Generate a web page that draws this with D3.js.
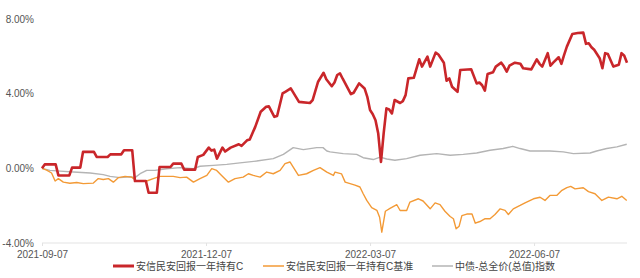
<!DOCTYPE html>
<html>
<head>
<meta charset="utf-8">
<script src="https://cdn.jsdelivr.net/npm/d3@7"></script>
<style>
  body { margin: 0; background: #fff; }
  text { font-family: "Liberation Sans", Arial, "Noto Sans CJK SC", sans-serif; }
</style>
</head>
<body>
<div id="chart"></div>
<script>
// Trading-day index (0 = 2021-09-07) and return in %
const fundPts = [[0,0],[1,0.21],[5,0.21],[6,-0.38],[10,-0.38],[11,0.04],[14,0.04],[15,0.88],[19,0.88],[20,0.61],[24,0.61],[25,0.75],[29,0.75],[30,0.97],[33,0.97],[34,-0.68],[38,-0.68],[39,-1.31],[42,-1.31],[43,0.07],[47,0.07],[48,0.25],[51,0.25],[52,-0.07],[56,-0.07],[57,0.61],[59,0.72],[61,1.11],[62,0.95],[63,1.0],[64,0.52],[66,1.11],[67,0.9],[69,1.11],[72,1.29],[73,1.2],[75,1.5],[76,1.55],[78,2.22],[80,3.03],[82,3.3],[83,3.32],[85,2.76],[86,2.8],[88,4.01],[89,4.1],[91,4.28],[93,3.8],[94,3.56],[98,3.5],[99,3.66],[101,4.64],[103,5.12],[104,4.77],[106,4.4],[107,4.6],[108,5.0],[109,5.09],[110,4.8],[113,3.98],[114,4.05],[116,4.55],[118,4.28],[119,3.83],[120,3.12],[121,2.9],[122,2.58],[123,1.86],[124,0.34],[125,1.9],[126,3.21],[127,3.15],[128,2.94],[129,3.66],[131,3.5],[132,3.6],[133,3.92],[134,4.82],[136,4.85],[138,5.84],[139,5.45],[141,5.98],[142,5.45],[144,6.2],[145,6.1],[147,5.66],[148,4.69],[149,4.82],[150,4.37],[152,4.1],[153,5.27],[157,5.31],[159,4.55],[160,4.6],[161,4.45],[162,4.16],[163,5.05],[165,5.15],[166,5.45],[168,5.66],[169,5.45],[170,5.18],[171,5.5],[173,5.66],[175,5.6],[176,5.36],[179,5.3],[181,5.84],[182,5.6],[183,5.45],[185,6.17],[186,5.5],[187,5.66],[189,5.95],[190,5.6],[191,6.08],[192,6.52],[194,7.2],[196,7.25],[198,7.27],[199,6.67],[200,6.7],[201,6.49],[202,6.35],[204,5.9],[205,5.36],[206,6.17],[207,6.13],[209,5.45],[211,5.55],[212,6.17],[213,6.03],[214,5.66]];

const benchPts = [[0,0],[1.7,-0.1],[3.5,-0.25],[4.8,-0.68],[6,-0.55],[7.8,-0.74],[10.2,-0.8],[12.7,-0.76],[15.1,-0.82],[18.8,-0.79],[20.6,-0.55],[22.4,-0.6],[24.3,-0.55],[26.1,-0.74],[27.9,-0.5],[30.4,-0.43],[32.8,-0.47],[34.6,-0.68],[38.3,-0.68],[40.7,-0.55],[43.2,-0.43],[48,-0.43],[50.5,-0.5],[52.9,-0.47],[55.4,-0.74],[57.8,-0.55],[60.3,-0.38],[62.1,-0.02],[63.9,-0.11],[65.7,-0.38],[68.2,-0.74],[70.6,-0.55],[73.6,-0.47],[75.5,-0.29],[77.3,-0.38],[79.8,-0.47],[82.2,-0.2],[84.6,-0.29],[87.1,-0.11],[88.9,0.25],[90.7,0.34],[91.9,0.07],[93.8,-0.38],[96.8,-0.29],[99.3,-0.11],[101.7,0.04],[104.2,-0.2],[106.6,-0.38],[107.2,-0.2],[109.6,-0.3],[110.9,-0.74],[114.5,-0.9],[116.3,-1.0],[117.5,-1.36],[118.8,-1.72],[120.6,-2.1],[122.5,-2.25],[123.5,-2.62],[124.3,-3.42],[125.6,-2.3],[127.3,-2.15],[129.8,-1.95],[131,-2.26],[133.4,-2.26],[134.6,-1.81],[137.7,-1.63],[139.4,-1.75],[142,-2.17],[143.8,-1.85],[145.6,-1.94],[147.4,-2.3],[149.3,-2.58],[150.5,-2.7],[151.5,-3.24],[152.6,-3.1],[153.6,-2.53],[155.4,-2.45],[157.3,-2.45],[158.5,-2.94],[160.2,-2.85],[162.1,-2.7],[163.9,-2.7],[165.7,-2.47],[167.6,-2.17],[169.4,-2.25],[170.6,-2.47],[172.4,-2.17],[174.9,-1.99],[176.7,-1.85],[179.8,-1.63],[182.2,-1.55],[184,-1.72],[185.8,-1.45],[188.3,-1.45],[190.2,-1.18],[192,-1.03],[193.4,-0.97],[195,-1.1],[198,-1.04],[199.9,-1.25],[202.3,-1.36],[204.8,-1.72],[207.2,-1.54],[210.3,-1.63],[212.1,-1.5],[213.9,-1.72]];

const indexPts = [[0,0],[2.9,-0.11],[6.6,-0.15],[11.5,-0.2],[17.6,-0.25],[22.4,-0.34],[24.9,-0.43],[28.5,-0.5],[32.2,-0.45],[34,-0.5],[35.9,-0.29],[38.3,-0.11],[41.3,-0.11],[45.6,-0.02],[50.5,0.04],[55.4,-0.02],[57.8,0.11],[62.7,0.16],[67.6,0.21],[72.4,0.29],[78.5,0.39],[84.6,0.52],[88.3,0.75],[91.9,1.11],[95.6,1.0],[100.5,1.11],[102.8,1.11],[104.2,0.93],[105.4,0.88],[110.2,0.79],[115.1,0.75],[117.5,0.57],[121.2,0.47],[123.7,0.6],[126.1,0.5],[129.1,0.43],[133.4,0.52],[138.3,0.7],[144.4,0.79],[149.3,0.7],[154.1,0.75],[159,0.82],[163.9,0.97],[168.7,1.06],[172.2,1.18],[174.9,1.06],[178.5,0.93],[185.8,0.93],[190.7,0.88],[194.4,0.79],[200.5,0.82],[202.9,0.93],[206.6,1.06],[210.3,1.15],[213.9,1.29]];

const dateTicks = [0, 60, 120, 180];
const dateLabels = ['2021-09-07', '2021-12-07', '2022-03-07', '2022-06-07'];
const yTicks = [-4, 0, 4, 8];

const seriesNames = ['安信民安回报一年持有C', '安信民安回报一年持有C基准', '中债-总全价(总值)指数'];
const seriesColors = ['#c9262a', '#f39a36', '#b4b4b4'];
const seriesWidths = [2.6, 1.4, 1.4];

const width = 640;
const height = 278;
const margins = { top: 19, right: 13, bottom: 35, left: 42 };

const svg = d3.select('#chart')
    .append('svg')
    .attr('width', width)
    .attr('height', height);

const xScale = d3.scaleLinear()
    .domain([0, 214])
    .range([margins.left, width - margins.right]);

const yScale = d3.scaleLinear()
    .domain([-4, 8])
    .range([height - margins.bottom, margins.top]);

// Baseline at -4%
svg.append('line')
    .attr('x1', xScale(0))
    .attr('x2', xScale(214))
    .attr('y1', yScale(-4))
    .attr('y2', yScale(-4))
    .attr('stroke', '#e3e3e3')
    .attr('stroke-width', 1);

// Y axis labels
svg.append('g')
    .selectAll('text')
    .data(yTicks)
    .enter()
    .append('text')
    .attr('x', 34)
    .attr('y', d => yScale(d))
    .attr('dy', '0.35em')
    .attr('text-anchor', 'end')
    .attr('fill', '#555')
    .style('font-size', '10px')
    .text(d => d.toFixed(2) + '%');

// X axis
const xAxis = d3.axisBottom(xScale)
    .tickValues(dateTicks)
    .tickFormat((d, i) => dateLabels[i])
    .tickSize(3)
    .tickPadding(5);

const xg = svg.append('g')
    .attr('transform', `translate(0,${yScale(-4)})`)
    .call(xAxis);
xg.select('.domain').remove();
xg.selectAll('line').attr('stroke', '#e3e3e3');
xg.selectAll('text')
    .attr('fill', '#555')
    .style('font-size', '10px')
    .style('font-family', '"Liberation Sans", Arial, sans-serif');

// Lines
const line = d3.line()
    .x(d => xScale(d[0]))
    .y(d => yScale(d[1]));

const allSeries = [fundPts, benchPts, indexPts];
[2, 1, 0].forEach(i => {
    svg.append('path')
        .datum(allSeries[i])
        .attr('fill', 'none')
        .attr('stroke', seriesColors[i])
        .attr('stroke-width', seriesWidths[i])
        .attr('stroke-linejoin', 'round')
        .attr('d', line);
});

// Legend
const legendX = [113, 263, 432];
const legend = svg.append('g')
    .attr('transform', 'translate(0,266)');

legend.selectAll('line')
    .data(seriesNames)
    .enter()
    .append('line')
    .attr('x1', (d, i) => legendX[i])
    .attr('x2', (d, i) => legendX[i] + 21)
    .attr('y1', 0)
    .attr('y2', 0)
    .attr('stroke', (d, i) => seriesColors[i])
    .attr('stroke-width', (d, i) => i === 0 ? 3 : 1.5);

legend.selectAll('text')
    .data(seriesNames)
    .enter()
    .append('text')
    .attr('x', (d, i) => legendX[i] + 23)
    .attr('y', 0)
    .attr('dy', '0.35em')
    .attr('fill', '#444')
    .style('font-size', '10px')
    .text(d => d);
</script>
</body>
</html>
